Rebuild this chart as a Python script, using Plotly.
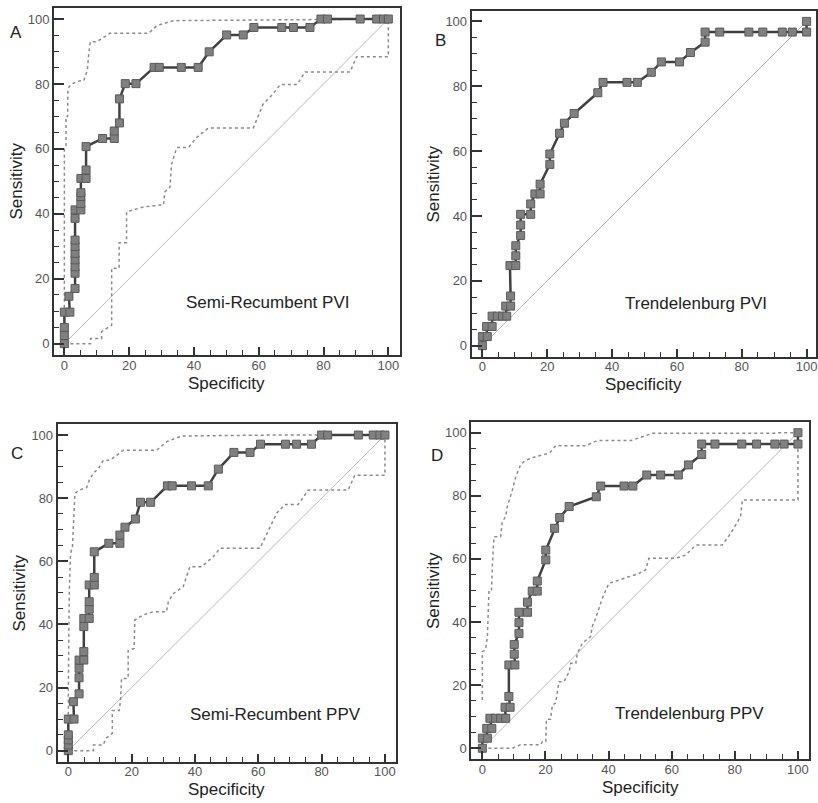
import plotly.graph_objects as go

W, H = 818, 803

# ---------------- data ----------------
panel_letters = ["A", "B", "C", "D"]
panel_titles = ["Semi-Recumbent PVI", "Trendelenburg PVI", "Semi-Recumbent PPV", "Trendelenburg PPV"]
tick_vals = [0, 20, 40, 60, 80, 100]
diag = [0, 100]

A_roc_x = [0, 0, 0, 0, 1.7, 1.4, 3.3, 3.3, 3.3, 3.3, 3.3, 3.3, 3.3, 3.3, 3.3, 5.1, 5.1, 5.1, 5.1, 5.1,
           6.7, 6.7, 6.7, 11.8, 15.4, 15.4, 17.0, 17.0, 18.8, 22.1, 27.7, 29.3, 36.1, 41.3, 44.7, 50.1,
           55.2, 58.5, 67.1, 70.7, 75.8, 79.2, 81.2, 91.3, 96.4, 98.5, 100]
A_roc_y = [0, 2.5, 5, 9.7, 9.7, 14.6, 17.0, 21.7, 23.7, 25.8, 27.8, 29.9, 31.9, 38.6, 41.2, 41.2, 43.2,
           45.3, 46.5, 50.9, 50.9, 53.5, 60.7, 63.2, 63.2, 65.5, 68.0, 75.4, 80.1, 80.1, 85.1, 85.1,
           85.1, 85.1, 89.9, 95.1, 95.1, 97.4, 97.4, 97.4, 97.4, 100, 100, 100, 100, 100, 100]
A_up_x = [0, 0, 0.5, 0.5, 1.0, 1.1, 2.2, 4.8, 6.0, 7.1, 7.5, 8.0, 10.0, 14.0, 26.0, 28.6, 33.6, 79.0, 100]
A_up_y = [0, 60, 61, 70, 70, 78.6, 80, 81, 81, 84.3, 89, 93, 93, 95.6, 95.6, 98, 99.5, 100, 100]
A_lo_x = [0, 8.1, 8.1, 11.5, 11.5, 14.6, 14.6, 16.9, 16.9, 19.2, 19.2, 24.4, 29.5, 30.6, 31.0, 32.6,
          33.1, 34.7, 38.3, 40.9, 44.4, 58.3, 61.4, 64.5, 66.6, 71.8, 74.3, 88.2, 90.2, 100, 100]
A_lo_y = [0, 0, 1.6, 1.6, 3.7, 5.7, 23.2, 23.2, 31.1, 31.1, 40.6, 42.1, 42.7, 42.7, 46.7, 48.2,
          55.3, 60.4, 60.4, 63.6, 66.4, 66.4, 73.9, 77.0, 79.8, 79.8, 83.7, 83.7, 88.4, 88.4, 100]

B_roc_x = [0, 0, 1.5, 1.3, 3.0, 3.0, 4.6, 6.2, 7.5, 7.2, 8.7, 8.7, 8.5, 10.3, 10.3, 10.3, 11.8, 11.8,
           11.8, 14.9, 14.9, 16.2, 17.8, 17.8, 20.8, 20.8, 23.8, 25.3, 28.3, 35.6, 37.2, 44.6, 47.8,
           52.1, 55.2, 60.8, 64.2, 68.7, 68.7, 73.2, 82.2, 86.5, 92.5, 95.6, 100, 100]
B_roc_y = [0, 2.8, 2.8, 5.9, 5.9, 9.1, 9.1, 9.1, 9.1, 12.2, 12.2, 15.3, 24.7, 24.7, 27.7, 30.8, 34.0,
           37.2, 40.5, 40.5, 43.7, 46.8, 46.8, 49.8, 55.9, 59.1, 65.5, 68.6, 71.6, 78.0, 81.2, 81.2,
           81.2, 84.3, 87.5, 87.5, 90.4, 93.6, 96.7, 96.7, 96.7, 96.7, 96.7, 96.7, 96.7, 100]

C_roc_x = [0, 0, 0, 0, 0, 1.8, 1.6, 3.4, 3.4, 3.4, 3.4, 4.9, 4.9, 4.9, 4.9, 6.6, 6.6, 6.6, 6.6, 8.2,
           8.2, 8.2, 12.8, 16.3, 16.3, 17.9, 21.2, 22.8, 26.0, 31.3, 32.8, 38.9, 44.2, 47.4, 52.3,
           57.4, 60.7, 68.6, 72.1, 76.8, 80.0, 81.9, 91.6, 96.3, 98.4, 100]
C_roc_y = [0, 1.8, 3.4, 5.0, 10.0, 10.0, 15.5, 18.0, 23.1, 26.1, 28.7, 28.7, 31.4, 39.3, 41.9, 41.9,
           44.8, 47.2, 52.5, 52.5, 54.9, 63.0, 65.7, 65.7, 68.3, 70.8, 73.4, 78.7, 78.7, 83.9, 83.9,
           83.9, 83.9, 89.2, 94.5, 94.5, 97.1, 97.1, 97.1, 97.1, 100, 100, 100, 100, 100, 100]
C_up_x = [0, 0, 0.3, 0.7, 1.3, 1.8, 2.1, 3.7, 5.8, 6.6, 7.9, 9.5, 11.1, 13.2, 17.4, 27.9, 31.1, 35.8, 64.0, 100]
C_up_y = [0, 19, 50, 62.5, 64.6, 73, 81.5, 82.6, 83.4, 85.7, 87.9, 89.4, 92, 92, 95.2, 95.2, 97.9, 99.7, 100, 100]
C_lo_x = [0, 7.9, 7.9, 11.0, 11.9, 13.9, 13.9, 16.1, 16.5, 16.8, 18.9, 18.9, 20.8, 21.0, 23.7, 26.8,
          31.0, 31.6, 33.2, 36.3, 38.4, 42.1, 45.8, 47.9, 60.5, 62.6, 65.8, 68.4, 72.6, 75.8, 88.4,
          90.5, 100, 100]
C_lo_y = [0, 0, 1.8, 1.8, 3.9, 5.5, 12.7, 12.7, 16.0, 22.9, 22.9, 31.7, 32.4, 41.4, 43.0, 44.0, 44.0,
          47.2, 49.8, 52.0, 58.3, 58.3, 61.5, 64.1, 64.1, 68.3, 75.2, 78.0, 78.0, 82.6, 82.6, 87.3,
          87.3, 100]

D_roc_x = [0, 0, 1.6, 1.4, 3.0, 2.4, 4.2, 5.8, 7.4, 7.2, 8.8, 8.4, 8.4, 10.3, 10.1, 10.1, 11.6, 11.6,
           11.6, 14.3, 14.3, 15.8, 17.4, 17.4, 20.1, 20.1, 22.9, 24.5, 27.5, 36.1, 37.5, 44.9, 47.7,
           52.1, 56.5, 62.1, 65.3, 69.5, 69.5, 73.7, 82.2, 86.9, 92.7, 95.6, 100, 100]
D_roc_y = [0, 3.2, 3.2, 6.3, 6.3, 9.5, 9.5, 9.5, 9.5, 13.0, 13.0, 16.4, 26.4, 26.4, 29.8, 32.9, 36.4,
           39.8, 43.1, 43.1, 46.3, 49.8, 49.8, 53.0, 59.7, 62.8, 69.7, 73.1, 76.6, 79.7, 83.1, 83.1,
           83.1, 86.6, 86.6, 86.6, 89.8, 93.1, 96.4, 96.4, 96.4, 96.4, 96.4, 96.4, 96.4, 100]
D_up_x = [0, 0, 1.0, 1.6, 2.1, 2.9, 3.2, 3.7, 5.8, 6.3, 7.4, 7.9, 9.5, 10.6, 12.1, 13.7, 16.9, 21.1,
          22.2, 23.2, 32.7, 36.4, 47.0, 50.7, 53.9, 92.9, 94.0, 100]
D_up_y = [15.3, 30.6, 31.2, 35.4, 50.2, 50.2, 58.6, 67.0, 67.0, 71.8, 73.4, 76.6, 81.8, 86.1, 89.8,
          91.3, 92.4, 93.5, 94.5, 95.9, 95.9, 97.5, 97.5, 98.7, 99.8, 99.8, 100, 100]
D_lo_x = [0, 9.5, 12.1, 18.5, 19.0, 20.1, 20.3, 21.6, 22.2, 23.2, 24.3, 25.9, 27.5, 28.0, 29.6, 30.1,
          31.7, 34.3, 34.8, 35.9, 38.0, 40.1, 43.3, 49.6, 51.7, 52.8, 61.2, 64.4, 67.6, 76.0, 78.7,
          81.8, 82.4, 100, 100]
D_lo_y = [0, 0, 1.1, 1.1, 2.1, 2.1, 9.2, 9.2, 13.7, 14.3, 21.1, 21.1, 24.3, 26.9, 26.9, 30.1, 33.3,
          35.4, 38.5, 41.2, 47.5, 52.3, 53.3, 55.4, 56.5, 60.2, 60.2, 61.2, 64.4, 64.4, 68.1, 73.4,
          78.7, 78.7, 96.6]

# ---------------- layout (pixel frames) ----------------
frames = [(54, 400, 8, 355), (471.7, 816, 11, 356.7), (57.7, 395.7, 424, 761.7), (471.3, 809, 422.3, 759.3)]
xranges = [[-3.2, 103.6], [-3.3, 102.9], [-3.35, 103.4], [-3.5, 103.5]]
yranges = [[-3.5, 103.4], [-3.4, 103.2], [-3.5, 103.5], [-3.5, 103.3]]
letter_pos = [(16, 33), (440, 41), (17, 453), (437, 455)]
title_pos = [(267, 303), (696, 304), (275, 714), (689, 713)]

rocs = [(A_roc_x, A_roc_y), (B_roc_x, B_roc_y), (C_roc_x, C_roc_y), (D_roc_x, D_roc_y)]
cis = [[(A_up_x, A_up_y), (A_lo_x, A_lo_y)], [], [(C_up_x, C_up_y), (C_lo_x, C_lo_y)],
       [(D_up_x, D_up_y), (D_lo_x, D_lo_y)]]

FONT = "Liberation Sans, Arial, sans-serif"
fig = go.Figure()
annotations = []

def px2x(p):
    return p / W

def px2y(p):
    return 1 - p / H

for i in range(4):
    n = "" if i == 0 else str(i + 1)
    xa, ya = "x" + n, "y" + n
    fig.add_trace(go.Scatter(x=diag, y=diag, mode="lines", xaxis=xa, yaxis=ya,
                             line=dict(color="#b8b8b8", width=1), showlegend=False, hoverinfo="skip"))
    for cx, cy in cis[i]:
        fig.add_trace(go.Scatter(x=cx, y=cy, mode="lines", xaxis=xa, yaxis=ya,
                                 line=dict(color="#8a8a8a", width=1.5, dash="dot"), showlegend=False))
    rx, ry = rocs[i]
    fig.add_trace(go.Scatter(x=rx, y=ry, mode="lines+markers", xaxis=xa, yaxis=ya,
                             line=dict(color="#404040", width=2.5),
                             marker=dict(symbol="square", size=8, color="#808080",
                                         line=dict(color="#5a5a5a", width=1)),
                             showlegend=False))
    l, r, t, b = frames[i]
    axcommon = dict(showgrid=False, zeroline=False, showline=True, mirror=True,
                    linecolor="#333333", linewidth=2, ticks="inside", tickcolor="#333333",
                    tickwidth=1.5, tickvals=tick_vals,
                    tickfont=dict(family=FONT, size=13, color="#555555"),
                    minor=dict(ticks="inside", dtick=5, tick0=0, ticklen=5, tickcolor="#333333",
                               tickwidth=1.2))
    fig.layout["xaxis" + n] = dict(domain=[px2x(l), px2x(r)], range=xranges[i], anchor=ya,
                                   ticklen=8, ticklabelstandoff=-3, **axcommon)
    fig.layout["yaxis" + n] = dict(domain=[px2y(b), px2y(t)], range=yranges[i], anchor=xa,
                                   ticklen=10, **axcommon)
    annotations.append(dict(text="Specificity", x=px2x((l + r) / 2), y=px2y(b + 28),
                            xref="paper", yref="paper", showarrow=False, xanchor="center",
                            yanchor="middle", font=dict(family=FONT, size=17, color="#222222")))
    annotations.append(dict(text="Sensitivity", x=px2x(l - 38), y=px2y((t + b) / 2), textangle=-90,
                            xref="paper", yref="paper", showarrow=False, xanchor="center",
                            yanchor="middle", font=dict(family=FONT, size=17, color="#222222")))
    lx, ly = letter_pos[i]
    annotations.append(dict(text=panel_letters[i], x=px2x(lx), y=px2y(ly), xref="paper", yref="paper",
                            showarrow=False, xanchor="center", yanchor="middle",
                            font=dict(family=FONT, size=17, color="#222222")))
    tx, ty = title_pos[i]
    annotations.append(dict(text=panel_titles[i], x=px2x(tx), y=px2y(ty), xref="paper", yref="paper",
                            showarrow=False, xanchor="center", yanchor="middle",
                            font=dict(family=FONT, size=17, color="#222222")))

fig.update_layout(width=W, height=H, margin=dict(l=0, r=0, t=0, b=0),
                  paper_bgcolor="white", plot_bgcolor="white", annotations=annotations)

fig.write_html("out.html", config={"displayModeBar": False},
               post_script="document.body.style.margin='0';document.body.style.overflow='hidden';")
